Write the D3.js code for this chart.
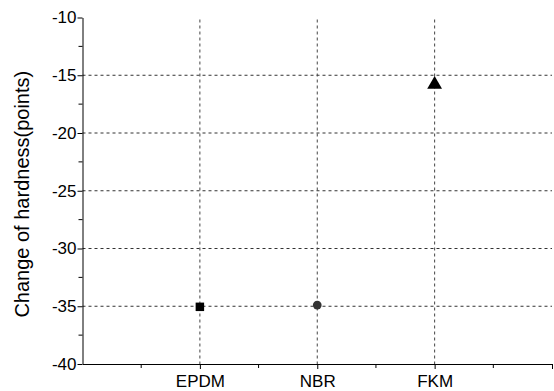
<!DOCTYPE html>
<html>
<head>
<meta charset="utf-8">
<script src="https://cdn.jsdelivr.net/npm/d3@7"></script>
<style>
  body { margin: 0; background: #fff; }
  svg { display: block; font-family: "Liberation Sans", Arial, sans-serif; }
</style>
</head>
<body>
<svg width="554" height="391"></svg>
<script>
// data
const categories = ["EPDM", "NBR", "FKM"];
const hardness = [-35.05, -34.9, -15.8];
const markers = ["square", "circle", "triangle"];
const yTicks = [-40, -35, -30, -25, -20, -15, -10];
const yLabel = "Change of hardness(points)";

const svg = d3.select("svg");

const x = d3.scaleLinear().domain([0, 4]).range([82.5, 552]);
const y = d3.scaleLinear().domain([-40, -10]).range([364, 17.5]);

// grid
svg.append("g").selectAll("line")
    .data(yTicks.filter(d => d > -40 && d < -10))
    .enter().append("line")
    .attr("x1", x(0)).attr("x2", x(4))
    .attr("y1", d => y(d)).attr("y2", d => y(d))
    .attr("stroke", "#333").attr("stroke-dasharray", "3,3");

svg.append("g").selectAll("line")
    .data(categories)
    .enter().append("line")
    .attr("x1", (d, i) => x(i + 1)).attr("x2", (d, i) => x(i + 1))
    .attr("y1", y(-10) + 2).attr("y2", y(-40))
    .attr("stroke", "#444").attr("stroke-dasharray", "3,3");

// y axis
const yAxis = svg.append("g").attr("transform", "translate(" + x(0) + ",0)");
yAxis.call(d3.axisLeft(y).tickValues(yTicks).tickFormat(d => String(d))
        .tickSize(5).tickSizeOuter(0).tickPadding(1))
    .call(g => g.selectAll("text").style("font-size", "17px").attr("fill", "#000"));
yAxis.selectAll(".minor")
    .data(d3.range(-37.5, -10, 5))
    .enter().append("line").attr("class", "minor")
    .attr("x1", -4).attr("x2", 0)
    .attr("y1", d => y(d)).attr("y2", d => y(d))
    .attr("stroke", "#000");

// x axis
const xAxis = svg.append("g").attr("transform", "translate(0," + y(-40) + ")");
xAxis.call(d3.axisBottom(x).tickValues([1, 2, 3, 4])
        .tickFormat(d => categories[d - 1] || "")
        .tickSize(5).tickSizeOuter(0).tickPadding(6))
    .call(g => g.selectAll("text").style("font-size", "17px").attr("fill", "#000"));
xAxis.selectAll(".minor")
    .data([0.5, 1.5, 2.5, 3.5])
    .enter().append("line").attr("class", "minor")
    .attr("x1", d => x(d)).attr("x2", d => x(d))
    .attr("y1", 0).attr("y2", 4)
    .attr("stroke", "#000");
svg.selectAll(".domain").attr("stroke", "#000");

// y label
svg.append("text")
    .attr("transform", "translate(29," + y(-25.3) + ") rotate(-90)")
    .attr("text-anchor", "middle")
    .style("font-size", "20px")
    .text(yLabel);

// points
const symbolType = { square: d3.symbolSquare, circle: d3.symbolCircle, triangle: d3.symbolTriangle };
const symbolSize = { square: 72, circle: 60, triangle: 95 };
const symbolFill = { square: "#000", circle: "#333", triangle: "#000" };

svg.append("g").selectAll("path")
    .data(hardness)
    .enter().append("path")
    .attr("transform", (d, i) => "translate(" + x(i + 1) + "," + y(d) + ")")
    .attr("d", (d, i) => d3.symbol().type(symbolType[markers[i]]).size(symbolSize[markers[i]])())
    .attr("fill", (d, i) => symbolFill[markers[i]]);
</script>
</body>
</html>
